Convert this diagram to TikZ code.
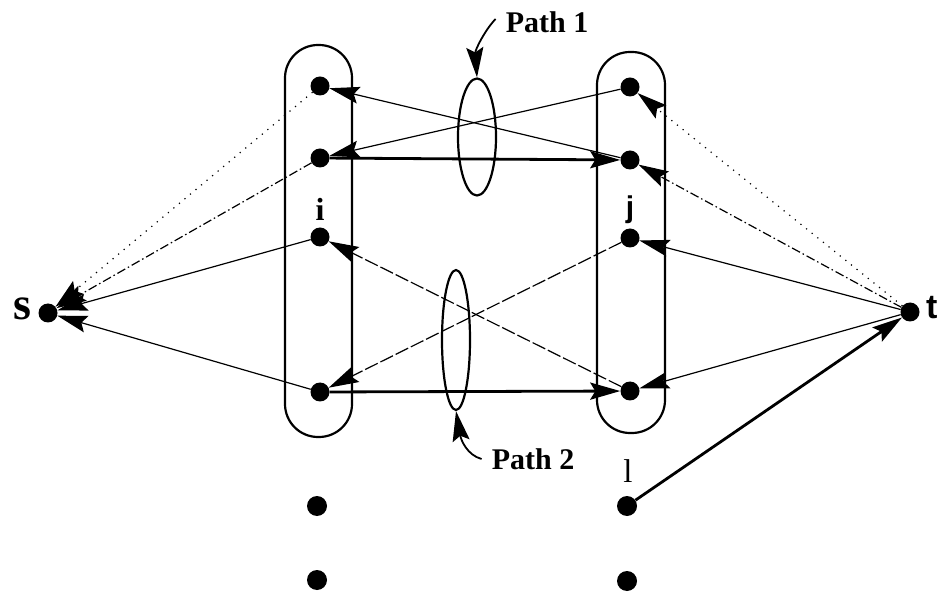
\documentclass[tikz,border=0pt]{standalone}
\usepackage{fontspec}
\setmainfont{Liberation Serif}
\newfontfamily\sansf{Liberation Sans}
\usetikzlibrary{arrows.meta,shapes.geometric}
\begin{document}
\begin{tikzpicture}[x=1pt,y=-1pt,
  dot/.style={circle,fill=black,inner sep=0pt,minimum size=19pt},
  bigdot/.style={circle,fill=black,inner sep=0pt,minimum size=20pt},
  tip/.style={-{Stealth[length=30pt,width=17pt,inset=5pt]}},
  thinline/.style={line width=1.2pt},
  thickline/.style={line width=2.8pt},
  sparsedot/.style={thinline,dash pattern=on 1.2pt off 6pt},
  dashdot/.style={thinline,dash pattern=on 9pt off 3pt on 1.5pt off 3pt},
  longdash/.style={thinline,dash pattern=on 14pt off 3pt},
  frame/.style={line width=2.2pt,rounded corners=33pt},
  lbl/.style={font=\bfseries\fontsize{30}{36}\selectfont,inner sep=0pt},
  sm/.style={font=\bfseries\fontsize{32}{34}\selectfont,inner sep=0pt}
]
\useasboundingbox (0,0) rectangle (945,593);
% frames
\draw[frame] (285,45) rectangle (352,437);
\draw[frame] (597,52) rectangle (665,433);
% ellipses
\node[draw,ellipse,line width=2.2pt,minimum width=38pt,minimum height=117pt,inner sep=0pt] (e1) at (477,137) {};
\node[draw,ellipse,line width=2.2pt,minimum width=28pt,minimum height=140pt,inner sep=0pt] (e2) at (456,340) {};
% nodes
\node[dot] (L1) at (320,86) {};
\node[dot] (L2) at (320,158) {};
\node[dot] (L3) at (320,237) {};
\node[dot] (L4) at (320,392) {};
\node[dot] (R1) at (630,87) {};
\node[dot] (R2) at (630,160) {};
\node[dot] (R3) at (630,238) {};
\node[dot] (R4) at (630,391) {};
\node[bigdot] (B1) at (317,506) {};
\node[bigdot] (B2) at (317,580) {};
\node[bigdot] (l) at (627,506) {};
\node[bigdot] (B4) at (627,581) {};
\node[dot] (s) at (48,313) {};
\node[dot] (t) at (910,312) {};
% labels
\node[lbl,font=\bfseries\fontsize{46}{48}\selectfont] (slab) at (22,309) {s};
\node[lbl,font=\sansf\bfseries\fontsize{34}{36}\selectfont,anchor=west] (tlab) at (926,308) {t};
\node[sm] (ilab) at (320,209) {i};
\node[sm,font=\sansf\bfseries\fontsize{30}{32}\selectfont] (jlab) at (630,210) {j};
\node[sm,font=\fontsize{33}{34}\selectfont] (llab) at (628,471) {l};
\node[lbl] (p1) at (547,22) {Path 1};
\node[lbl] (p2) at (533,459) {Path 2};
% path label arrows
\draw[line width=1.8pt,tip] ([xshift=-10pt,yshift=3pt]p1.west) .. controls (485,30) and (475,50) .. (e1.north);
\draw[line width=1.8pt,tip] ([xshift=-10pt]p2.west) .. controls (467,455) and (461,440) .. (e2.south);
% middle edges
\draw[thinline,tip] (R2) -- (L1);
\draw[thinline,tip] (R1) -- (L2);
\draw[thickline,tip] (L2) -- (R2);
\draw[longdash,tip] (R4) -- (L3);
\draw[longdash,tip] (R3) -- (L4);
\draw[thickline,tip] (L4) -- (R4);
% to s
\draw[sparsedot,tip] (L1) -- (s);
\draw[dashdot,tip] (L2) -- (s);
\draw[thinline,tip] (L3) -- (s);
\draw[thinline,tip] (L4) -- (s);
% from t
\draw[sparsedot,tip] (t) -- (R1);
\draw[dashdot,tip] (t) -- (R2);
\draw[thinline,tip] (t) -- (R3);
\draw[thinline,tip] (t) -- (R4);
\draw[thickline,tip] (l) -- (t);
\end{tikzpicture}
\end{document}
